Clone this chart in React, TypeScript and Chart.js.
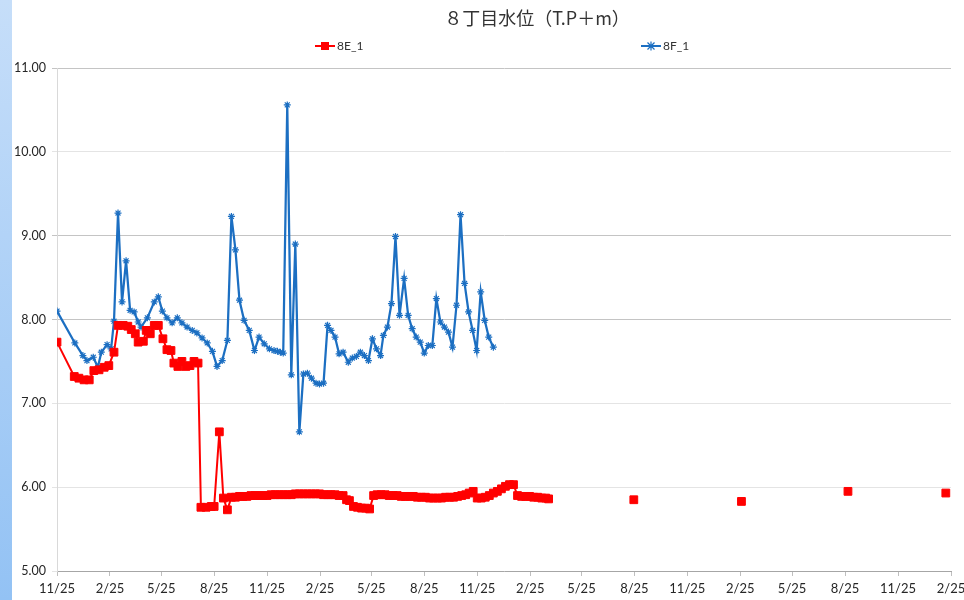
import React, { useEffect, useRef } from "react";
import { Chart, registerables } from "chart.js";

Chart.register(...registerables);

const TITLE = "８丁目水位（T.P＋m）";
const SERIES_NAMES = ["8E_1", "8F_1"];
const X_TICK_LABELS = [
  "11/25", "2/25", "5/25", "8/25", "11/25", "2/25", "5/25", "8/25", "11/25",
  "2/25", "5/25", "8/25", "11/25", "2/25", "5/25", "8/25", "11/25", "2/25",
];
const Y_MIN = 5;
const Y_MAX = 11;

// days since 11/25 of the first year
const e1Days = [
  0, 30, 38, 47, 56, 64, 73, 82, 90, 99, 106, 115, 123, 129, 136, 141, 150, 155, 162, 169,
  176, 184, 191, 198, 203, 210, 217, 224, 231, 238, 245, 250, 259, 268, 273, 282, 289, 296, 303, 310,
  317, 323, 330, 337, 344, 351, 358, 365, 372, 379, 386, 393, 400, 407, 414, 421, 428, 435, 442, 449,
  456, 463, 470, 476, 483, 490, 497, 503, 508, 515, 522, 529, 536, 543, 550, 556, 563, 570, 577, 584,
  591, 598, 605, 612, 619, 626, 633, 640, 647, 654, 661, 668, 675, 682, 689, 696, 703, 710, 716, 723,
  730, 737, 744, 751, 758, 765, 772, 779, 786, 793, 800, 807, 814, 821, 828, 835, 842, 849, 854, 1002,
  1189, 1374, 1544,
];
const e1Vals = [
  7.73, 7.32, 7.30, 7.28, 7.28, 7.39, 7.40, 7.43, 7.45, 7.61, 7.93, 7.93, 7.92, 7.88, 7.83, 7.73, 7.74, 7.87, 7.83, 7.93,
  7.93, 7.77, 7.64, 7.63, 7.48, 7.44, 7.50, 7.44, 7.45, 7.50, 7.48, 5.76, 5.76, 5.77, 5.77, 6.66, 5.87, 5.73, 5.88, 5.88,
  5.89, 5.89, 5.89, 5.90, 5.90, 5.90, 5.90, 5.90, 5.91, 5.91, 5.91, 5.91, 5.91, 5.91, 5.92, 5.92, 5.92, 5.92, 5.92, 5.92,
  5.92, 5.91, 5.91, 5.91, 5.91, 5.90, 5.90, 5.85, 5.84, 5.77, 5.76, 5.75, 5.75, 5.74, 5.90, 5.91, 5.91, 5.91, 5.90, 5.90,
  5.90, 5.89, 5.89, 5.89, 5.89, 5.88, 5.88, 5.88, 5.87, 5.87, 5.87, 5.87, 5.88, 5.88, 5.88, 5.89, 5.90, 5.91, 5.93, 5.95,
  5.87, 5.87, 5.88, 5.90, 5.93, 5.95, 5.98, 6.01, 6.03, 6.03, 5.90, 5.89, 5.89, 5.89, 5.88, 5.88, 5.87, 5.87, 5.86, 5.85,
  5.83, 5.95, 5.93,
];

const f1Days = [
  0, 31, 45, 52, 63, 71, 77, 87, 94, 99, 106, 113, 120, 127, 134, 141, 146, 157, 169, 176,
  183, 191, 200, 209, 217, 226, 235, 243, 252, 261, 270, 278, 287, 296, 303, 310, 317, 325, 334, 343,
  351, 360, 369, 377, 383, 388, 393, 400, 407, 414, 421, 428, 435, 442, 450, 456, 463, 470, 476, 483,
  490, 497, 506, 513, 520, 527, 534, 541, 548, 555, 562, 567, 574, 581, 588, 595, 603, 610, 617, 624,
  631, 638, 645, 652, 659, 666, 673, 680, 687, 694, 701, 708, 715, 722, 729, 736, 743, 750, 758,
];
const f1Vals = [
  8.10, 7.72, 7.57, 7.51, 7.55, 7.43, 7.61, 7.70, 7.65, 7.98, 9.27, 8.21, 8.70, 8.11, 8.09, 7.97, 7.91, 8.02, 8.21, 8.27,
  8.10, 8.02, 7.96, 8.02, 7.96, 7.91, 7.87, 7.84, 7.78, 7.72, 7.62, 7.44, 7.51, 7.75, 9.23, 8.83, 8.23, 7.99, 7.87, 7.63,
  7.79, 7.71, 7.65, 7.63, 7.62, 7.61, 7.60, 10.56, 7.34, 8.90, 6.66, 7.35, 7.36, 7.30, 7.24, 7.23, 7.24, 7.93, 7.87, 7.79,
  7.59, 7.61, 7.49, 7.54, 7.56, 7.61, 7.57, 7.51, 7.77, 7.65, 7.57, 7.81, 7.91, 8.19, 8.99, 8.05, 8.49, 8.05, 7.89, 7.79,
  7.73, 7.60, 7.69, 7.69, 8.25, 7.97, 7.91, 7.85, 7.67, 8.17, 9.25, 8.43, 8.09, 7.87, 7.63, 8.33, 7.99, 7.79, 7.67,
];

const RED = "#ff0000";
const BLUE = "#1c6fc2";
const FONT = "Lato, 'Open Sans', sans-serif";

const DAY = 86400000;
const tickDays = X_TICK_LABELS.map(
  (_, i) => Math.round((Date.UTC(2012, 10 + 3 * i, 25) - Date.UTC(2012, 10, 25)) / DAY)
);

const titleLegendPlugin = {
  id: "titleLegend",
  afterDraw(chart: any) {
    const ctx = chart.ctx;
    ctx.save();
    ctx.fillStyle = "#333333";
    ctx.font = "18px 'Noto Sans CJK JP', sans-serif";
    ctx.textAlign = "center";
    ctx.textBaseline = "middle";
    ctx.fillText(TITLE, 537, 18);

    const legendX = [315, 641];
    const y = 46;
    chart.data.datasets.forEach((ds: any, i: number) => {
      const x0 = legendX[i];
      ctx.strokeStyle = ds.borderColor;
      ctx.fillStyle = ds.borderColor;
      ctx.lineWidth = 2;
      ctx.beginPath();
      ctx.moveTo(x0, y);
      ctx.lineTo(x0 + 20, y);
      ctx.stroke();
      const cx = x0 + 10;
      if (ds.pointStyle === "rect") {
        ctx.fillRect(cx - 4, y - 4, 8, 8);
      } else {
        ctx.lineWidth = 1.2;
        ctx.beginPath();
        const r = 3.5;
        ctx.moveTo(cx - r, y - r);
        ctx.lineTo(cx + r, y + r);
        ctx.moveTo(cx + r, y - r);
        ctx.lineTo(cx - r, y + r);
        ctx.moveTo(cx, y - r - 1);
        ctx.lineTo(cx, y + r + 1);
        ctx.stroke();
      }
      ctx.fillStyle = "#333333";
      ctx.font = `12px ${FONT}`;
      ctx.textAlign = "left";
      ctx.fillText(ds.label, x0 + 22, y);
    });
    ctx.restore();
  },
};

export default function App() {
  const ref = useRef<HTMLCanvasElement | null>(null);

  useEffect(() => {
    if (!ref.current) return;
    const darkLines = [11, 9, 8];
    const chart = new Chart(ref.current, {
      type: "line",
      data: {
        datasets: [
          {
            label: SERIES_NAMES[0],
            data: e1Days.map((d, i) => ({ x: d, y: e1Vals[i] })),
            borderColor: RED,
            backgroundColor: RED,
            borderWidth: 2,
            pointStyle: "rect",
            pointRadius: 5.5,
            pointBorderWidth: 1,
            pointBackgroundColor: RED,
            pointBorderColor: RED,
            tension: 0,
            segment: {
              borderColor: (c: any) =>
                c.p1.parsed.x - c.p0.parsed.x > 60 ? "rgba(0,0,0,0)" : RED,
            },
          },
          {
            label: SERIES_NAMES[1],
            data: f1Days.map((d, i) => ({ x: d, y: f1Vals[i] })),
            borderColor: BLUE,
            backgroundColor: BLUE,
            borderWidth: 2.25,
            pointStyle: "star",
            pointRadius: 3.5,
            pointBorderWidth: 1.2,
            pointBorderColor: BLUE,
            tension: 0,
          },
        ],
      },
      options: {
        responsive: false,
        animation: false,
        devicePixelRatio: 1,
        layout: { padding: { top: 68, right: 13, left: 0, bottom: 0 } },
        plugins: {
          legend: { display: false },
          title: { display: false },
          tooltip: { enabled: false },
        },
        scales: {
          x: {
            type: "linear",
            min: 0,
            max: tickDays[tickDays.length - 1],
            afterBuildTicks: (scale: any) => {
              scale.ticks = tickDays.map((v) => ({ value: v }));
            },
            afterFit: (scale: any) => {
              scale.height = 29;
              scale.paddingRight = 0;
              scale.paddingLeft = 0;
            },
            ticks: {
              autoSkip: false,
              maxRotation: 0,
              padding: 5,
              color: "#262626",
              font: { family: FONT, size: 13 },
              callback: (v: any) => {
                const idx = tickDays.indexOf(Number(v));
                return idx >= 0 ? X_TICK_LABELS[idx] : "";
              },
            },
            grid: {
              drawOnChartArea: false,
              drawTicks: true,
              tickLength: 5,
              color: "#bfbfbf",
            },
            border: { color: "#a6a6a6", width: 1 },
          },
          y: {
            min: Y_MIN,
            max: Y_MAX,
            afterFit: (scale: any) => {
              scale.width = 57;
            },
            ticks: {
              stepSize: 1,
              padding: 6,
              color: "#262626",
              font: { family: FONT, size: 12.5 },
              callback: (v: any) => Number(v).toFixed(2),
            },
            grid: {
              tickLength: 5,
              color: (c: any) =>
                c.tick && darkLines.includes(c.tick.value) ? "#c4c4c4" : "#e4e4e4",
            },
            border: { color: "#d9d9d9", width: 1 },
          },
        },
      },
      plugins: [titleLegendPlugin],
    } as any);
    return () => chart.destroy();
  }, []);

  return (
    <div
      style={{
        position: "fixed",
        left: 0,
        top: 0,
        width: 964,
        height: 600,
        background: "#ffffff",
        overflow: "hidden",
      }}
    >
      <div
        style={{
          position: "absolute",
          left: 0,
          top: 0,
          width: 12,
          height: 600,
          background: "linear-gradient(to bottom, #c6def9, #93c2f4)",
        }}
      />
      <canvas
        ref={ref}
        width={964}
        height={600}
        style={{ position: "absolute", left: 0, top: 0, width: 964, height: 600 }}
      />
    </div>
  );
}
